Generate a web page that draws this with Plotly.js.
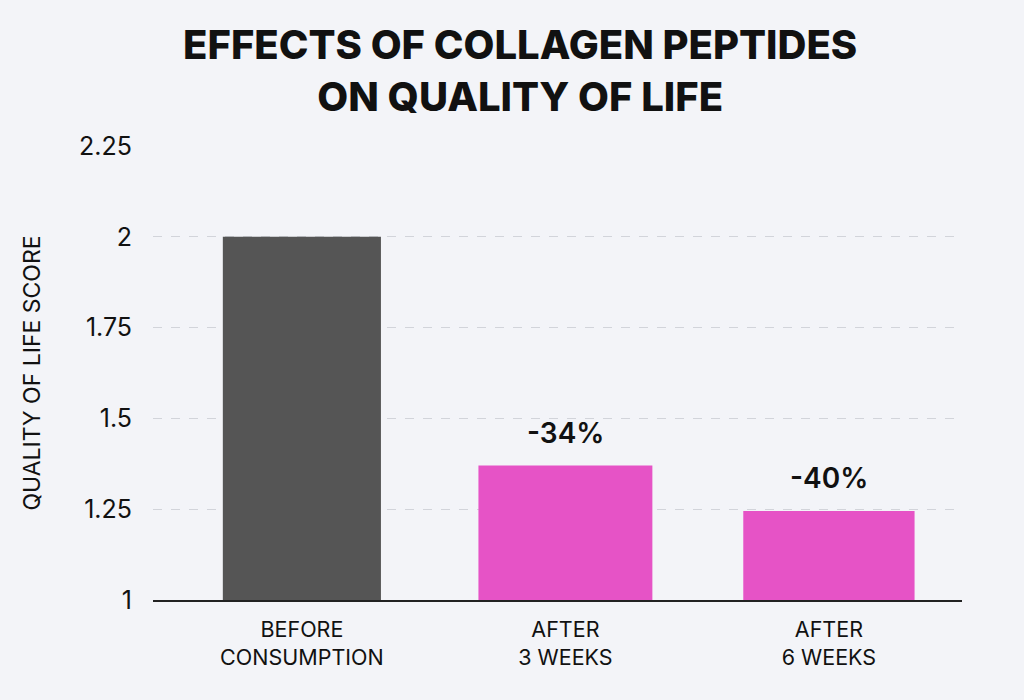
<!DOCTYPE html>
<html>
<head>
<meta charset="utf-8">
<script src="https://cdn.plot.ly/plotly-3.0.1.min.js"></script>
<style>
html,body{margin:0;padding:0;background:#f3f4f8;}
#chart{width:1024px;height:700px;}
</style>
</head>
<body>
<div id="chart"></div>
<script>
const categories = ["BEFORE<br>CONSUMPTION", "AFTER<br>3 WEEKS", "AFTER<br>6 WEEKS"];
const scores = [2.0, 1.37, 1.245];
const changeLabels = ["", "-34%", "-40%"];
const barColors = ["#555555", "#e653c6", "#e653c6"];
const yTicks = [1, 1.25, 1.5, 1.75, 2, 2.25];
const yTickLabels = ["1", "1.25", "1.5", "1.75", "2", "2.25"];
const baseline = 1;

const trace = {
  type: "bar",
  x: categories,
  y: scores.map(v => v - baseline),
  base: baseline,
  marker: {color: barColors, line: {width: 0}},
  width: [0.60, 0.66, 0.65],
  hoverinfo: "skip"
};

const annotations = categories.map((c, i) => ({
  x: c, y: scores[i], xref: "x", yref: "y",
  text: changeLabels[i], showarrow: false,
  yanchor: "bottom", yshift: 14,
  font: {family: "Inter, 'Noto Sans', sans-serif", size: 28, color: "#111111", weight: 600}
})).filter(a => a.text !== "");

const layout = {
  width: 1024, height: 700,
  paper_bgcolor: "#f3f4f8",
  plot_bgcolor: "rgba(0,0,0,0)",
  margin: {l: 153, r: 62, t: 146, b: 100},
  showlegend: false,
  title: {
    text: "EFFECTS OF COLLAGEN PEPTIDES<br>ON QUALITY OF LIFE",
    xref: "container", x: 0.508, xanchor: "center",
    yref: "container", y: 0.9157, yanchor: "middle",
    font: {family: "Inter, 'Noto Sans', sans-serif", size: 40, color: "#111111", weight: 800}
  },
  xaxis: {
    type: "category",
    range: [-0.565, 2.505],
    showgrid: false,
    showline: true, linecolor: "#222222", linewidth: 1.5,
    ticks: "",
    ticklabelstandoff: 10,
    tickfont: {family: "Inter, 'Noto Sans', sans-serif", size: 21.5, color: "#111111"},
    fixedrange: true
  },
  yaxis: {
    range: [1, 2.25],
    tickvals: yTicks, ticktext: yTickLabels,
    showgrid: true, gridcolor: "#d2d4da", griddash: "dash", gridwidth: 1,
    zeroline: false, showline: false, ticks: "",
    ticklabelstandoff: 20,
    tickfont: {family: "Inter, 'Noto Sans', sans-serif", size: 25, color: "#111111"},
    title: {text: "QUALITY OF LIFE SCORE", standoff: 32,
      font: {family: "Inter, 'Noto Sans', sans-serif", size: 23, color: "#111111"}},
    fixedrange: true
  },
  annotations: annotations
};

Plotly.newPlot("chart", [trace], layout, {displayModeBar: false, staticPlot: true});
</script>
</body>
</html>
